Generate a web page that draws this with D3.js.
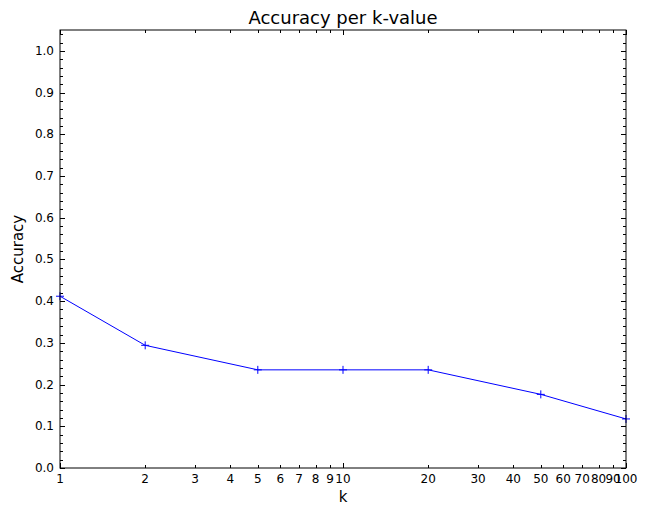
<!DOCTYPE html>
<html>
<head>
<meta charset="utf-8">
<title>Accuracy per k-value</title>
<script src="https://cdn.jsdelivr.net/npm/d3@7"></script>
<style>
  body { margin: 0; background: #fff; }
  text { font-family: "DejaVu Sans", sans-serif; fill: #000; }
  .tick-label { font-size: 12px; }
</style>
</head>
<body>
<div id="chart"></div>
<script>
// data
var kValues = [1, 2, 5, 10, 20, 50, 100];
var accuracy = [0.4118, 0.2941, 0.2353, 0.2353, 0.2353, 0.1765, 0.1176];
var xTickValues = [1, 2, 3, 4, 5, 6, 7, 8, 9, 10, 20, 30, 40, 50, 60, 70, 80, 90, 100];
var xMajor = [1, 10, 100];
var yTickValues = [0, 0.1, 0.2, 0.3, 0.4, 0.5, 0.6, 0.7, 0.8, 0.9, 1.0];
var yMinor = d3.range(0, 53).map(function(i){ return i * 0.02; }).filter(function(v){ return v <= 1.05; });

var W = 647, H = 506;
var m = { left: 60, right: 21, top: 30, bottom: 38 };
var iw = W - m.left - m.right, ih = H - m.top - m.bottom;

var svg = d3.select("#chart").append("svg").attr("width", W).attr("height", H);
var g = svg.append("g").attr("transform", "translate(" + m.left + "," + m.top + ")");

var x = d3.scaleLog().domain([1, 100]).range([0, iw]);
var y = d3.scaleLinear().domain([0, 1.05]).range([ih, 0]);

// ticks inside, on all four sides
function drawTicks() {
  var t = g.append("g").attr("stroke", "#000").attr("stroke-width", 1);
  xTickValues.forEach(function(v){
    var len = xMajor.indexOf(v) >= 0 ? 5 : 3;
    var px = Math.round(x(v)) + 0.5;
    t.append("line").attr("x1", px).attr("x2", px).attr("y1", ih).attr("y2", ih - len);
    t.append("line").attr("x1", px).attr("x2", px).attr("y1", 0).attr("y2", len);
  });
  yMinor.forEach(function(v){
    var major = Math.abs(v * 10 - Math.round(v * 10)) < 1e-6;
    var len = major ? 5 : 3;
    var py = Math.round(y(v)) + 0.5;
    t.append("line").attr("x1", 0).attr("x2", len).attr("y1", py).attr("y2", py);
    t.append("line").attr("x1", iw).attr("x2", iw - len).attr("y1", py).attr("y2", py);
  });
}
drawTicks();

// tick labels
g.selectAll(".xl").data(xTickValues).enter().append("text")
  .attr("class", "tick-label")
  .attr("x", function(d){ return x(d); })
  .attr("y", ih + 15)
  .attr("text-anchor", "middle")
  .text(function(d){ return d; });

g.selectAll(".yl").data(yTickValues).enter().append("text")
  .attr("class", "tick-label")
  .attr("x", -6)
  .attr("y", function(d){ return y(d) + 4; })
  .attr("text-anchor", "end")
  .text(function(d){ return d3.format(".1f")(d); });

// line
var line = d3.line()
  .x(function(d, i){ return x(kValues[i]); })
  .y(function(d){ return y(d); });

g.append("path").datum(accuracy)
  .attr("d", line)
  .attr("fill", "none")
  .attr("stroke", "#0000ff")
  .attr("stroke-width", 1);

// "+" markers
g.selectAll(".mk").data(accuracy).enter().append("path")
  .attr("transform", function(d, i){ return "translate(" + x(kValues[i]) + "," + y(d) + ")"; })
  .attr("d", "M-4,0H4M0,-4V4")
  .attr("stroke", "#0000ff")
  .attr("stroke-width", 1);

// frame
g.append("rect").attr("width", iw).attr("height", ih)
  .attr("fill", "none").attr("stroke", "#000").attr("stroke-width", 1);

// title and axis labels
svg.append("text").attr("x", m.left + iw / 2).attr("y", 24)
  .attr("text-anchor", "middle").style("font-size", "18px").text("Accuracy per k-value");
svg.append("text").attr("x", m.left + iw / 2).attr("y", H - 4)
  .attr("text-anchor", "middle").style("font-size", "15px").text("k");
svg.append("text").attr("transform", "translate(23," + (m.top + ih / 2) + ") rotate(-90)")
  .attr("text-anchor", "middle").style("font-size", "15px").text("Accuracy");
</script>
</body>
</html>
